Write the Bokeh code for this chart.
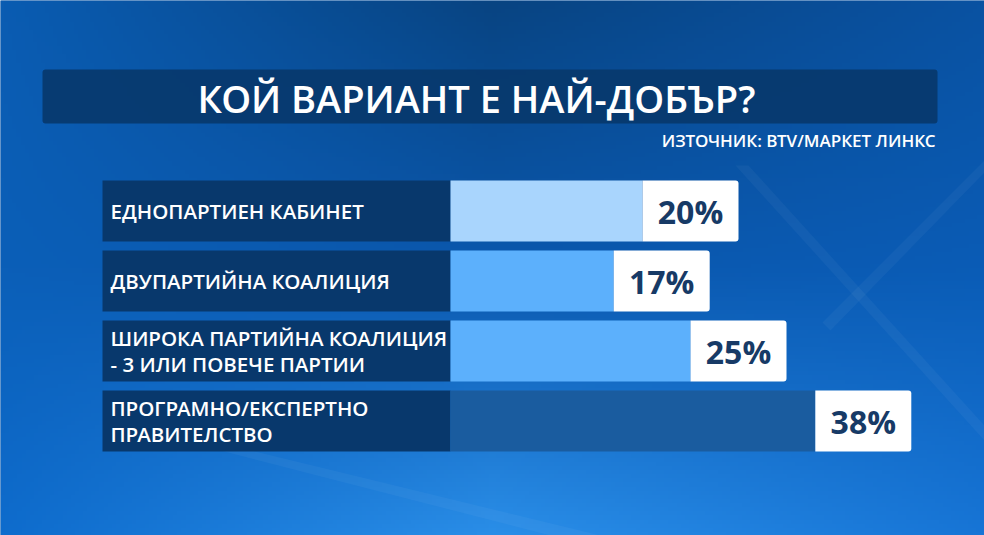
import numpy as np
from bokeh.plotting import figure
from bokeh.models import Range1d, ColumnDataSource
from bokeh.core.properties import value
from bokeh.embed import file_html
from bokeh.resources import INLINE

# ---- data ----
title = "КОЙ ВАРИАНТ Е НАЙ-ДОБЪР?"
source_note = "ИЗТОЧНИК: BTV/МАРКЕТ ЛИНКС"
categories = [
    "ЕДНОПАРТИЕН КАБИНЕТ",
    "ДВУПАРТИЙНА КОАЛИЦИЯ",
    "ШИРОКА ПАРТИЙНА КОАЛИЦИЯ\n- 3 ИЛИ ПОВЕЧЕ ПАРТИИ",
    "ПРОГРАМНО/ЕКСПЕРТНО\nПРАВИТЕЛСТВО",
]
values = [20, 17, 25, 38]

# ---- styles ----
bar_colors = ["#a9d5fd", "#5cb0fc", "#5cb0fc", "#1a5c9f"]
navy = "#08386c"
pct_color = "#173a66"
FONT = value("Open Sans SemiBold")

W, H = 984, 535
PX_PER_UNIT = 9.6          # horizontal pixels per percentage point
ZERO_PX = 450              # x pixel of 0 %
ROW_PX = 70                # row pitch
ROW0_PX = 210.5            # centre of first row from top

def xd(px):
    return (px - ZERO_PX) / PX_PER_UNIT

def yd(py):
    return -(py - ROW0_PX) / ROW_PX

p = figure(width=W, height=H, output_backend="svg", toolbar_location=None,
           x_range=Range1d(xd(0), xd(W)), y_range=Range1d(yd(H), yd(0)),
           min_border=0)
p.axis.visible = False
p.grid.visible = False
p.outline_line_color = None
p.background_fill_color = "#0a55a6"
p.border_fill_color = "#0a55a6"

# ---- background gradient ----
grid = np.array([
    [[0x0e, 0x6c, 0xcd], [0x2a, 0x8e, 0xe8], [0x17, 0x75, 0xd6]],   # bottom row
    [[0x0b, 0x5f, 0xb8], [0x0b, 0x58, 0xae], [0x0a, 0x5c, 0xb6]],   # middle row
    [[0x0a, 0x5c, 0xb2], [0x08, 0x44, 0x82], [0x0a, 0x52, 0xa2]],   # top row
], dtype=float)
ny, nx = 130, 240
gy = np.linspace(0, 2, ny)
gx = np.linspace(0, 2, nx)
img = np.zeros((ny, nx, 3))
for c in range(3):
    tmp = np.array([np.interp(gx, [0, 1, 2], grid[r, :, c]) for r in range(3)])
    img[:, :, c] = np.array([np.interp(gy, [0, 1, 2], tmp[:, i]) for i in range(nx)]).T
rgba = np.zeros((ny, nx), dtype=np.uint32)
view = rgba.view(dtype=np.uint8).reshape((ny, nx, 4))
view[:, :, 0] = img[:, :, 0].astype(np.uint8)
view[:, :, 1] = img[:, :, 1].astype(np.uint8)
view[:, :, 2] = img[:, :, 2].astype(np.uint8)
view[:, :, 3] = 255
p.image_rgba(image=[rgba], x=xd(0), y=yd(H), dw=xd(W) - xd(0), dh=yd(0) - yd(H))

# faint light streaks
streaks = [
    [(735, 165), (748, 165), (984, 425), (984, 440)],
    [(220, 450), (250, 450), (600, 535), (550, 535)],
    [(984, 160), (984, 172), (830, 330), (822, 322)],
    [(1090, 0), (1110, 0), (984, 150), (984, 130)],
]
for s in streaks:
    p.patch([xd(a) for a, b in s], [yd(b) for a, b in s],
            fill_color="#ffffff", fill_alpha=0.04, line_color=None)

# ---- title bar ----
p.quad(left=xd(42), right=xd(937), top=yd(69), bottom=yd(123),
       fill_color=navy, fill_alpha=0.92, line_color=None, border_radius=3)
p.text(x=[xd(197)], y=[yd(97)], text=[title], text_color="white",
       text_font=FONT, text_font_style="normal",
       text_font_size="38px", text_baseline="middle", text_align="left")
p.text(x=[xd(935)], y=[yd(140)], text=[source_note], text_color="white",
       text_font=FONT, text_font_style="normal",
       text_font_size="17px", text_baseline="middle", text_align="right")

# ---- bars ----
rows = -np.arange(len(values), dtype=float)
src = ColumnDataSource(dict(
    y=rows, v=values, cat=categories, color=bar_colors,
    v_end=[v + 10 for v in values],
    v_mid=[v + 5 for v in values],
    pct=[f"{v}%" for v in values],
))
bh = 61 / ROW_PX
p.hbar(y="y", left=xd(102), right=0, height=bh, fill_color=navy,
       line_color=None, source=src)
p.hbar(y="y", left=0, right="v", height=bh, fill_color="color",
       line_color=None, source=src)
p.hbar(y="y", left="v", right="v_end", height=bh, fill_color="white",
       line_color=None, source=src, border_radius=(0, 3, 3, 0))
p.text(x=xd(110), y="y", text="cat", source=src, text_color="white",
       text_font=FONT, text_font_style="normal",
       text_font_size="20.5px", text_baseline="middle", text_align="left",
       text_line_height=0.92)
p.text(x="v_mid", y="y", text="pct", source=src, text_color=pct_color,
       text_font=value("Open Sans"), text_font_style="bold",
       text_font_size="32px", text_baseline="middle", text_align="center")

open("out.html", "w").write(file_html(p, INLINE))
